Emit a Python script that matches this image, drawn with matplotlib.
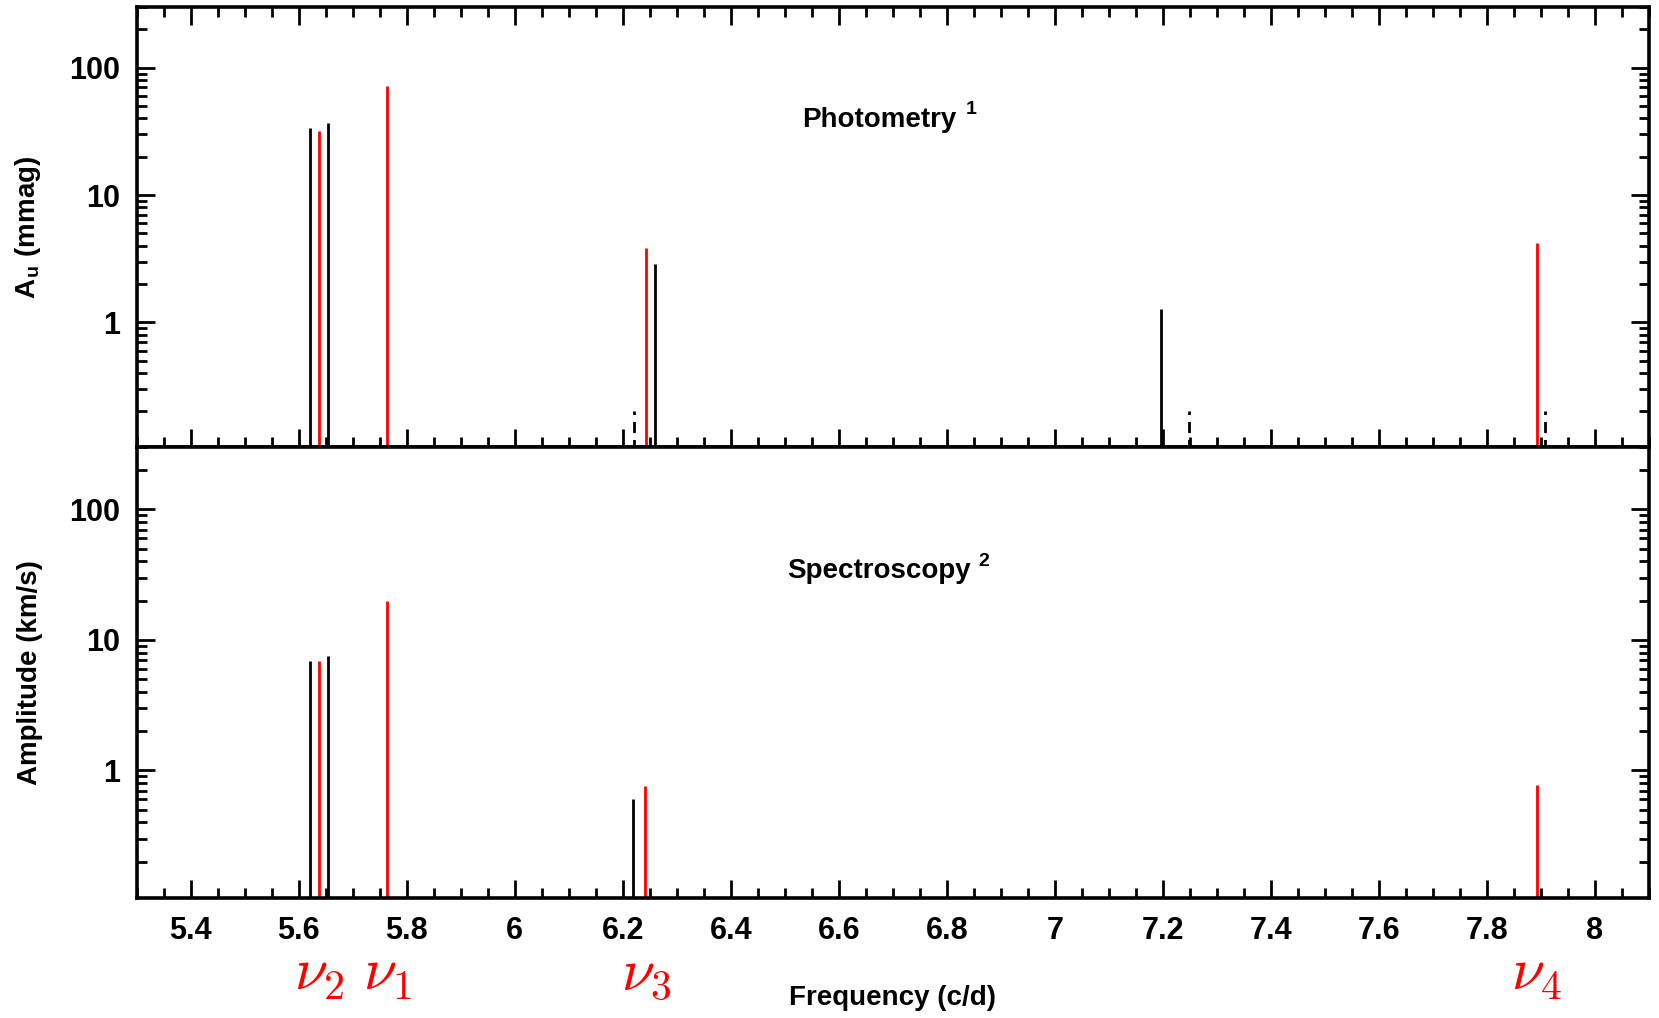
import matplotlib
matplotlib.use("Agg")
import matplotlib.pyplot as plt

plt.rcParams["font.family"] = ["Liberation Sans", "DejaVu Sans"]
plt.rcParams["font.weight"] = "bold"
plt.rcParams["axes.labelweight"] = "bold"
plt.rcParams["mathtext.fontset"] = "cm"

# photometry (top panel)
phot_black_freq = [5.620, 5.654, 6.260, 7.196]
phot_black_amp = [33.7, 37.1, 2.88, 1.28]
phot_red_freq = [5.6376, 5.7637, 6.243, 7.892]
phot_red_amp = [31.7, 71.8, 3.83, 4.23]
phot_dash_freq = [6.220, 7.248, 7.908]
phot_dash_amp = [0.2, 0.2, 0.2]

# spectroscopy (bottom panel)
spec_black_freq = [5.620, 5.654, 6.219]
spec_black_amp = [6.84, 7.57, 0.607]
spec_red_freq = [5.6376, 5.7637, 6.242, 7.892]
spec_red_amp = [6.84, 20.0, 0.767, 0.77]

mode_freq = [5.6376, 5.7637, 6.243, 7.892]
mode_names = [r"$\nu_2$", r"$\nu_1$", r"$\nu_3$", r"$\nu_4$"]

xticks = [5.4, 5.6, 5.8, 6.0, 6.2, 6.4, 6.6, 6.8, 7.0, 7.2, 7.4, 7.6, 7.8, 8.0]
xticklabels = ["5.4", "5.6", "5.8", "6", "6.2", "6.4", "6.6", "6.8", "7", "7.2",
               "7.4", "7.6", "7.8", "8"]

W, H = 1659, 1018
fig = plt.figure(figsize=(W / 100, H / 100), dpi=100)
left, right = 136.7 / W, 1649 / W
ax1 = fig.add_axes([left, 1 - 447 / H, right - left, (447 - 7) / H])
ax2 = fig.add_axes([left, 1 - 898.3 / H, right - left, (898.3 - 447) / H], sharex=ax1)

LW = 2.0
BASE = 0.01  # below the axis, gets clipped

ax1.vlines(phot_black_freq, BASE, phot_black_amp, color="black", lw=LW)
ax1.vlines(phot_red_freq, BASE, phot_red_amp, color="red", lw=LW)
ax1.vlines(phot_dash_freq, BASE, phot_dash_amp, color="black", lw=LW,
           linestyles=(0, (4, 2.5)))

ax2.vlines(spec_black_freq, BASE, spec_black_amp, color="black", lw=LW)
ax2.vlines(spec_red_freq, BASE, spec_red_amp, color="red", lw=LW)

for ax in (ax1, ax2):
    ax.set_yscale("log")
    ax.set_ylim(0.105, 300)
    ax.set_xlim(5.3, 8.1)
    ax.set_yticks([1, 10, 100])
    ax.set_yticklabels(["1", "10", "100"])
    ax.set_xticks(xticks)
    ax.xaxis.set_minor_locator(matplotlib.ticker.MultipleLocator(0.05))
    ax.yaxis.set_minor_formatter(matplotlib.ticker.NullFormatter())
    for s in ax.spines.values():
        s.set_linewidth(2.6)
    ax.tick_params(which="major", direction="in", length=13, width=2,
                   labelsize=22, right=True, pad=12)
    ax.tick_params(which="minor", direction="in", length=7, width=2, right=True)

ax1.tick_params(which="both", top=True, labelbottom=False)
ax2.tick_params(which="both", top=False)
ax2.set_xticklabels(xticklabels)
ax2.tick_params(axis="x", which="major", pad=13)

ax1.set_ylabel(r"A$_\mathregular{u}$ (mmag)", fontsize=20)
ax2.set_ylabel("Amplitude (km/s)", fontsize=20)
ax1.yaxis.set_label_coords(-0.062, 0.5)
ax2.yaxis.set_label_coords(-0.062, 0.5)

ax1.text(0.491, 0.743, "Photometry", transform=ax1.transAxes, fontsize=20,
         ha="center", va="center")
ax1.text(0.552, 0.766, "1", transform=ax1.transAxes, fontsize=14,
         ha="center", va="center")
ax2.text(0.491, 0.725, "Spectroscopy", transform=ax2.transAxes, fontsize=20,
         ha="center", va="center")
ax2.text(0.560, 0.747, "2", transform=ax2.transAxes, fontsize=14,
         ha="center", va="center")

trans = matplotlib.transforms.blended_transform_factory(ax2.transData, fig.transFigure)
for f, name in zip(mode_freq, mode_names):
    fig.text(f, 1 - 990 / H, name, transform=trans, color="red", fontsize=43,
             ha="center", va="baseline")

fig.text((left + right) / 2, 1 - 998 / H, "Frequency (c/d)", fontsize=20,
         ha="center", va="center")

fig.savefig("out.png", dpi=100)
